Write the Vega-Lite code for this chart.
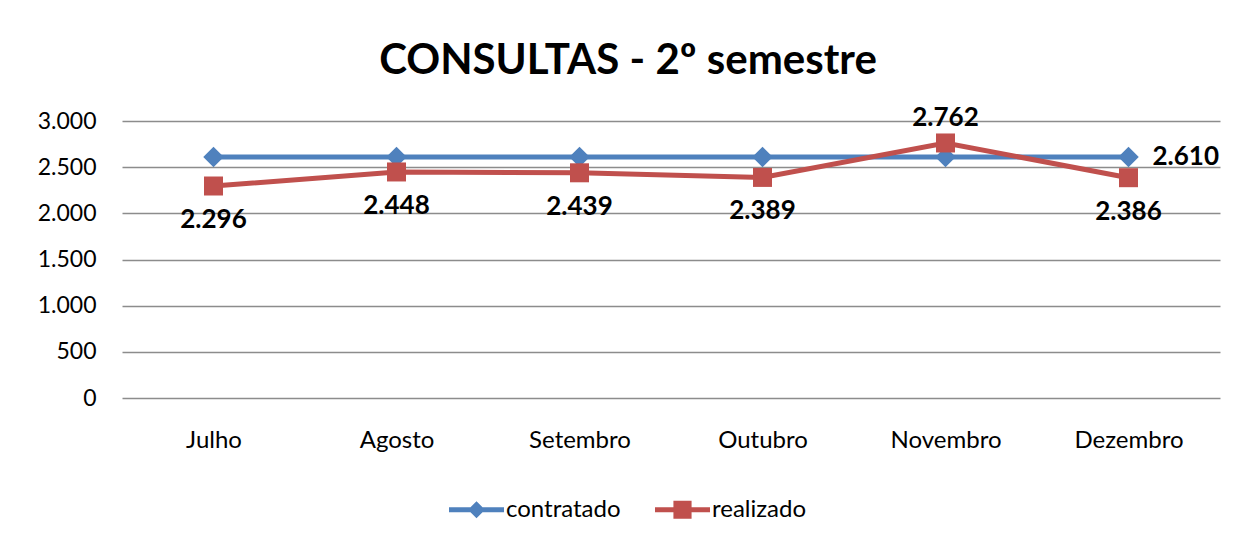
{
  "$schema": "https://vega.github.io/schema/vega-lite/v6.json",
  "autosize": {"type": "none"},
  "width": 1098,
  "height": 277,
  "padding": {"left": 122, "top": 121, "right": 32, "bottom": 143},
  "background": "white",
  "title": {
    "text": "CONSULTAS - 2º semestre",
    "font": "Lato",
    "fontSize": 42,
    "fontWeight": "bold",
    "color": "black",
    "anchor": "middle",
    "dx": -43,
    "offset": 22
  },
  "config": {
    "locale": {"number": {"decimal": ",", "thousands": ".", "grouping": [3], "currency": ["R$", ""]}},
    "view": {"stroke": null},
    "font": "Lato"
  },
  "data": {
    "values": [
      {"mes": "Julho", "serie": "contratado", "valor": 2610},
      {"mes": "Agosto", "serie": "contratado", "valor": 2610},
      {"mes": "Setembro", "serie": "contratado", "valor": 2610},
      {"mes": "Outubro", "serie": "contratado", "valor": 2610},
      {"mes": "Novembro", "serie": "contratado", "valor": 2610},
      {"mes": "Dezembro", "serie": "contratado", "valor": 2610},
      {"mes": "Julho", "serie": "realizado", "valor": 2296},
      {"mes": "Agosto", "serie": "realizado", "valor": 2448},
      {"mes": "Setembro", "serie": "realizado", "valor": 2439},
      {"mes": "Outubro", "serie": "realizado", "valor": 2389},
      {"mes": "Novembro", "serie": "realizado", "valor": 2762},
      {"mes": "Dezembro", "serie": "realizado", "valor": 2386}
    ]
  },
  "encoding": {
    "x": {
      "field": "mes", "type": "ordinal", "sort": null,
      "scale": {"type": "point", "padding": 0.5},
      "axis": {"title": null, "labelAngle": 0, "labelFontSize": 24, "labelFontWeight": "normal", "labelColor": "black", "labelFont": "Lato", "labelPadding": 30, "ticks": false, "domain": false, "grid": false}
    },
    "y": {
      "field": "valor", "type": "quantitative",
      "scale": {"domain": [0, 3000], "nice": false},
      "axis": {"title": null, "values": [0, 500, 1000, 1500, 2000, 2500, 3000], "format": ",d", "labelFontSize": 23, "labelFontWeight": "normal", "labelColor": "black", "labelFont": "Lato", "labelPadding": 26, "ticks": false, "domain": false, "gridColor": "#8c8c8c", "gridWidth": 1.5}
    }
  },
  "layer": [
    {
      "mark": {"type": "line", "strokeWidth": 5},
      "encoding": {
        "color": {
          "field": "serie", "type": "nominal",
          "scale": {"domain": ["contratado", "realizado"], "range": ["#4F81BD", "#C0504D"]},
          "legend": {
            "title": null,
            "orient": "none",
            "legendX": 327,
            "legendY": 361,
            "direction": "horizontal",
            "labelFontSize": 24,
            "labelFont": "Lato",
            "labelFontWeight": "normal",
            "labelColor": "black",
            "labelOffset": 2,
            "columnPadding": 34,
            "symbolSize": 3025,
            "symbolStrokeWidth": 0,
            "symbolOpacity": 1,
            "encode": {
              "symbols": {
                "update": {
                  "shape": {"signal": "datum.value === 'contratado' ? 'M-1,-0.09L1,-0.09L1,0.09L-1,0.09Z M0,-0.31L0.31,0L0,0.31L-0.31,0Z' : 'M-1,-0.09L1,-0.09L1,0.09L-1,0.09Z M-0.33,-0.33L0.33,-0.33L0.33,0.33L-0.33,0.33Z'"},
                  "fill": {"signal": "datum.value === 'contratado' ? '#4F81BD' : '#C0504D'"},
                  "fillOpacity": {"value": 1},
                  "size": {"value": 3025}
                }
              }
            }
          }
        }
      }
    },
    {
      "mark": {"type": "point", "filled": true, "opacity": 1},
      "encoding": {
        "fill": {"condition": {"test": "datum.serie === 'contratado'", "value": "#4F81BD"}, "value": "#C0504D"},
        "shape": {"condition": {"test": "datum.serie === 'contratado'", "value": "diamond"}, "value": "square"},
        "size": {"condition": {"test": "datum.serie === 'contratado'", "value": 420}, "value": 361}
      }
    },
    {
      "transform": [{"filter": "datum.serie === 'realizado' && datum.mes !== 'Novembro'"}],
      "mark": {"type": "text", "dy": 34, "fontSize": 26, "fontWeight": "bold", "font": "Lato", "color": "black"},
      "encoding": {"text": {"field": "valor", "type": "quantitative", "format": ",d"}}
    },
    {
      "transform": [{"filter": "datum.serie === 'realizado' && datum.mes === 'Novembro'"}],
      "mark": {"type": "text", "dy": -25, "fontSize": 26, "fontWeight": "bold", "font": "Lato", "color": "black"},
      "encoding": {"text": {"field": "valor", "type": "quantitative", "format": ",d"}}
    },
    {
      "transform": [{"filter": "datum.serie === 'contratado' && datum.mes === 'Dezembro'"}],
      "mark": {"type": "text", "dx": 24, "align": "left", "fontSize": 26, "fontWeight": "bold", "font": "Lato", "color": "black"},
      "encoding": {"text": {"field": "valor", "type": "quantitative", "format": ",d"}}
    }
  ]
}
